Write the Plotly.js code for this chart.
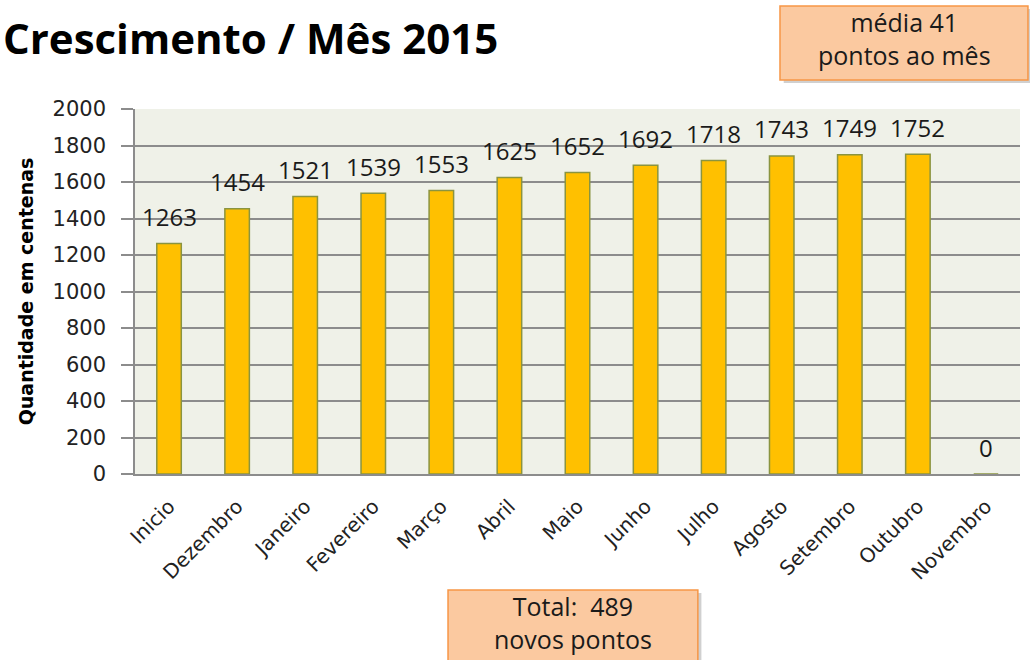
<!DOCTYPE html>
<html>
<head>
<meta charset="utf-8">
<script src="https://cdn.plot.ly/plotly-3.0.1.min.js"></script>
<style>html,body{margin:0;padding:0;background:#fff;}#chart{width:1030px;height:660px;}</style>
</head>
<body>
<div id="chart"></div>
<script>
const categories = ["Inicio","Dezembro","Janeiro","Fevereiro","Março","Abril","Maio","Junho","Julho","Agosto","Setembro","Outubro","Novembro"];
const values = [1263,1454,1521,1539,1553,1625,1652,1692,1718,1743,1749,1752,0];
const yTicks = [0,200,400,600,800,1000,1200,1400,1600,1800,2000];
const titleText = "Crescimento / Mês 2015";
const yTitle = "Quantidade em centenas";
const boxTop = "média 41<br>pontos ao mês";
const boxBottom = "Total:  489<br>novos pontos";

const trace = {
  type: 'bar',
  x: categories,
  y: values,
  width: 0.36,
  marker: {color: '#FFC000', line: {color: '#8a9440', width: 1.5}},
  hoverinfo: 'x+y'
};

const labelAnns = categories.map((c, i) => ({
  x: c, y: values[i], xref: 'x', yref: 'y',
  text: String(values[i]), showarrow: false,
  yanchor: 'middle', yshift: 27,
  font: {family: 'Open Sans', size: 24, color: '#1a1a1a'}
}));

const layout = {
  width: 1030, height: 660,
  margin: {l: 135, r: 10, t: 109, b: 186},
  paper_bgcolor: '#ffffff',
  plot_bgcolor: '#eff1e8',
  showlegend: false,
  xaxis: {
    type: 'category',
    tickangle: -45,
    tickfont: {family: 'DejaVu Sans', size: 20, color: '#222'},
    ticklabelstandoff: 11,
    showline: true, linecolor: '#8c8c8c', linewidth: 1.5,
    ticks: '', showgrid: false, fixedrange: true
  },
  yaxis: {
    range: [0, 2000],
    tickvals: yTicks,
    ticktext: yTicks.map(String),
    tickfont: {family: 'DejaVu Sans', size: 21, color: '#222'},
    ticklabelstandoff: 11,
    ticks: 'outside', ticklen: 12, tickcolor: '#8c8c8c', tickwidth: 1.5,
    showline: true, linecolor: '#8c8c8c', linewidth: 1.5,
    showgrid: true, gridcolor: '#8c8c8c', gridwidth: 1.5,
    zeroline: false,
    title: {text: '<b>' + yTitle + '</b>', standoff: 14,
      font: {family: 'DejaVu Sans', size: 19, color: '#000'}},
    fixedrange: true
  },
  shapes: [
    {type: 'rect', xref: 'paper', yref: 'paper', x0: 0.733, x1: 1.013, y0: 1.071, y1: 1.274,
      fillcolor: 'rgba(120,120,120,0.35)', line: {width: 0}, layer: 'above'},
    {type: 'rect', xref: 'paper', yref: 'paper', x0: 0.7288, x1: 1.009, y0: 1.0795, y1: 1.282,
      fillcolor: '#fbc9a0', line: {color: '#f79646', width: 1.5}, layer: 'above'},
    {type: 'rect', xref: 'paper', yref: 'paper', x0: 0.3577, x1: 0.640, y0: -0.52, y1: -0.326,
      fillcolor: 'rgba(120,120,120,0.35)', line: {width: 0}, layer: 'above'},
    {type: 'rect', xref: 'paper', yref: 'paper', x0: 0.3537, x1: 0.636, y0: -0.515, y1: -0.318,
      fillcolor: '#fbc9a0', line: {color: '#f79646', width: 1.5}, layer: 'above'}
  ],
  annotations: labelAnns.concat([
    {xref: 'paper', yref: 'paper', x: -0.1514, y: 1.196, text: '<b>' + titleText + '</b>', showarrow: false,
      xanchor: 'left', yanchor: 'middle', align: 'left',
      font: {family: 'Open Sans', size: 42, color: '#000'}},
    {xref: 'paper', yref: 'paper', x: 0.870, y: 1.193, text: boxTop, showarrow: false,
      xanchor: 'center', yanchor: 'middle', align: 'center',
      font: {family: 'Open Sans', size: 25, color: '#1a1a1a'}},
    {xref: 'paper', yref: 'paper', x: 0.4949, y: -0.4055, text: boxBottom, showarrow: false,
      xanchor: 'center', yanchor: 'middle', align: 'center',
      font: {family: 'Open Sans', size: 25, color: '#1a1a1a'}}
  ])
};

Plotly.newPlot('chart', [trace], layout, {displayModeBar: false});
</script>
</body>
</html>
